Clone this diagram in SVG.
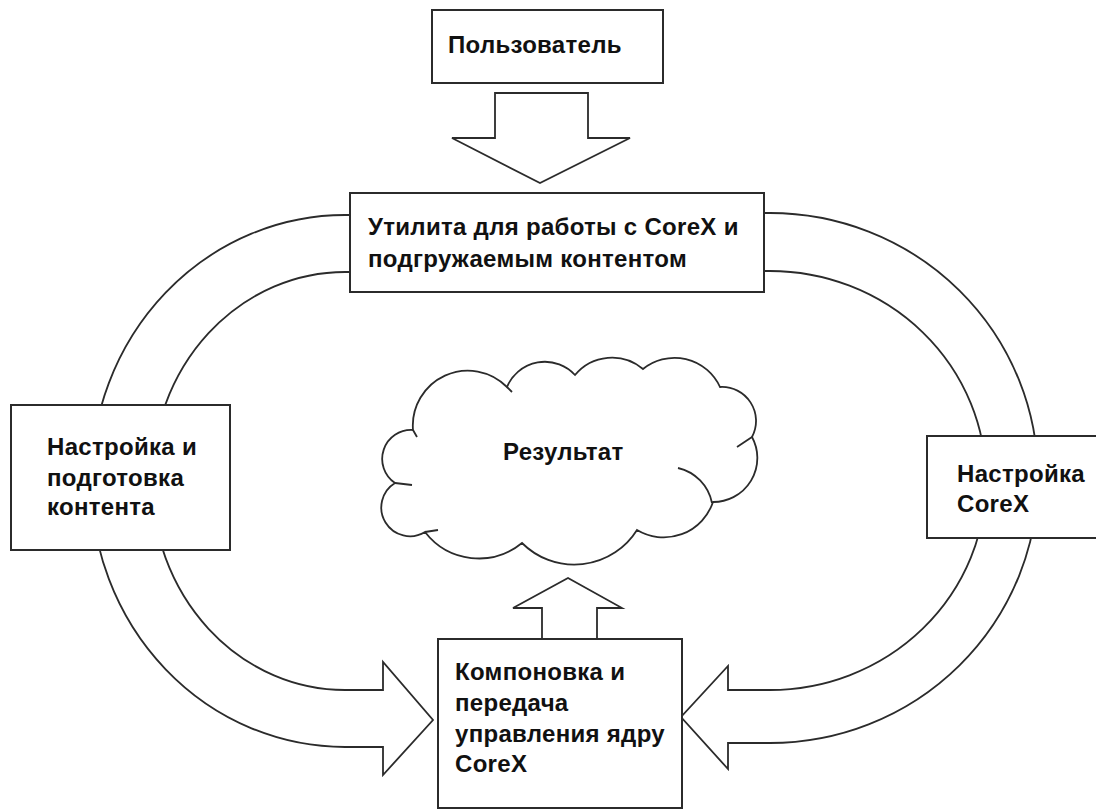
<svg xmlns="http://www.w3.org/2000/svg" width="1096" height="810" viewBox="0 0 1096 810">
<style>
.ln{fill:none;stroke:#2b2b2b;stroke-width:1.8;stroke-linejoin:miter}
.box{fill:#fff;stroke:#2b2b2b;stroke-width:2}
.t{font-family:"Liberation Sans",Arial,sans-serif;font-weight:bold;font-size:24px;letter-spacing:0.3px;fill:#111}
</style>
<rect width="1096" height="810" fill="#fff"/>
<g id="connectors">
<path class="ln" d="M495,93 L588,93 L588,138 L630,138 L540,183 L452,138 L495,138 Z" fill="#fff"/>
<path class="ln" d="M350,215 L345,215 A254,266 0 0 0 91,481 A254,266 0 0 0 345,747 L383,747 L383,775 L433,720 L383,662 L383,690 L345,690 A193,209 0 0 1 152,481 A193,209 0 0 1 345,272 L350,272"/>
<path class="ln" d="M764,213 L770,213 A268,265 0 0 1 1038,478 A268,265 0 0 1 770,743 L728,743 L728,769 L681,717 L728,666 L728,690 L770,690 A216,209.5 0 0 0 986,480.5 A216,209.5 0 0 0 770,271 L764,271"/>
<path class="ln" d="M542,639 L542,608 L513,608 L568,578 L622,608 L597,608 L597,639"/>
</g>
<g id="node-user">
<rect class="box" x="432" y="10" width="231" height="73"/>
<text class="t" x="448" y="53">Пользователь</text>
</g>
<g id="node-utility">
<rect class="box" x="350" y="193" width="414" height="99"/>
<text class="t" x="368" y="235">Утилита для работы с CoreX и</text>
<text class="t" x="368" y="267">подгружаемым контентом</text>
</g>
<g id="node-content">
<rect class="box" x="11" y="405" width="219" height="145"/>
<text class="t" x="47" y="455">Настройка и</text>
<text class="t" x="47" y="486">подготовка</text>
<text class="t" x="47" y="515">контента</text>
</g>
<g id="node-corex-setup">
<rect class="box" x="927" y="436" width="180" height="102"/>
<text class="t" x="957" y="482">Настройка</text>
<text class="t" x="957" y="512">CoreX</text>
</g>
<g id="node-result">
<path class="ln" fill="#fff" d="M413,430 A55,55 0 0 1 507,387 A41,41 0 0 1 575,375 A48,48 0 0 1 643,369 A50,50 0 0 1 720,387 A34,34 0 0 1 752,437 A44,44 0 0 1 713,502 A52,52 0 0 1 637,530 A74,74 0 0 1 522,543 A68,68 0 0 1 425,532 A27,27 0 0 1 395,483 A29,29 0 0 1 413,430 Z"/>
<path class="ln" d="M413,430 L417,437 M507,387 L512,392 M752,437 L737,447 M678,468 A45,45 0 0 1 712,503 M425,532 L438,530 M395,483 L412,485"/>
<text class="t" x="503" y="460">Результат</text>
</g>
<g id="node-compose">
<rect class="box" x="438" y="639" width="244" height="169"/>
<text class="t" x="455" y="680">Компоновка и</text>
<text class="t" x="455" y="711">передача</text>
<text class="t" x="455" y="742">управления ядру</text>
<text class="t" x="455" y="772">CoreX</text>
</g>
</svg>
